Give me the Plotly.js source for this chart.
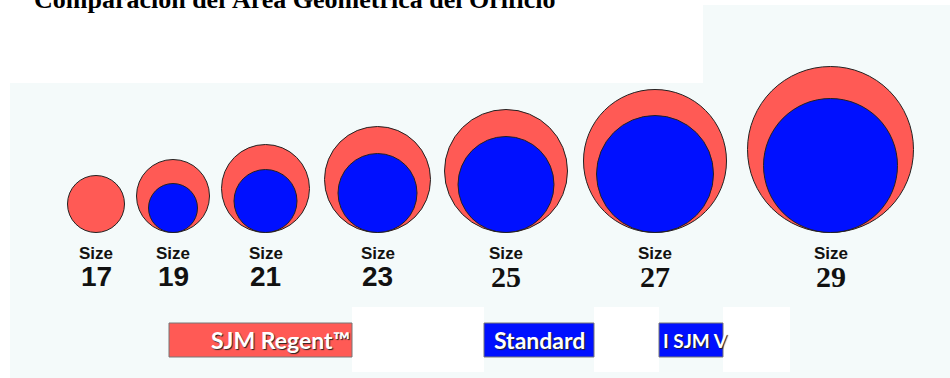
<!DOCTYPE html>
<html><head><meta charset="utf-8">
<script src="https://cdn.plot.ly/plotly-3.0.1.min.js"></script>
<style>html,body{margin:0;padding:0;background:#fff;overflow:hidden;} #chart{width:950px;height:378px;}</style>
</head><body><div id="chart"></div>
<script>
// ---- data ----
const sizes = ['17', '19', '21', '23', '25', '27', '29'];
const regentDiameter = [57, 73, 88, 106, 123, 143, 166];
const standardDiameter = [null, 49, 63, 79, 96, 117, 134];
const sizeWord = 'Size';
const titleText = 'Comparación del Área Geométrica del Orificio';
const legendLabels = ['SJM Regent™', 'Standard', 'I SJM V'];

// ---- layout helpers ----
const RED = '#ff5a55', BLUE = '#0010ff', LIGHT = '#f4fafa';
const baseline = 232.5;
const firstLeft = 67.5;
const gaps = [12, 12, 15, 14, 16, 21];
const centers = [];
let edge = firstLeft;
regentDiameter.forEach((d, i) => { if (i > 0) edge += gaps[i - 1]; centers.push(edge + d / 2); edge += d; });

const traces = [
  { type: 'scatter', mode: 'markers', name: 'SJM Regent™', x: centers,
    y: regentDiameter.map(d => baseline - d / 2), cliponaxis: false, hoverinfo: 'skip',
    marker: { size: regentDiameter, sizemode: 'diameter', opacity: 1, color: RED, line: { color: '#222', width: 1 } } },
  { type: 'scatter', mode: 'markers', name: 'Standard', x: centers,
    y: standardDiameter.map(d => d == null ? null : baseline - d / 2), cliponaxis: false, hoverinfo: 'skip',
    marker: { size: standardDiameter.map(d => d == null ? 0 : d), sizemode: 'diameter', opacity: 1, color: BLUE, line: { color: '#222', width: 1 } } }
];

const rect = (x0, y0, x1, y1, fill, line) => ({ type: 'rect', xref: 'x', yref: 'y', x0, y0, x1, y1, layer: 'below',
  fillcolor: fill, line: line || { width: 0 } });
const barLine = { color: '#777', width: 1 };
const shapes = [
  rect(10, 83, 950, 378, LIGHT),
  rect(703, 5, 950, 83, LIGHT),
  rect(352, 307, 484, 372, '#ffffff'),
  rect(594, 307, 659, 372, '#ffffff'),
  rect(723, 307, 790, 372, '#ffffff'),
  rect(169, 323, 352, 357, RED, barLine),
  rect(484, 323, 594, 357, BLUE, barLine),
  rect(659, 323, 723, 357, BLUE, barLine)
];

const annotations = [
  { text: '<b>' + titleText + '</b>', x: 32, y: 0, yshift: 1, xref: 'x', yref: 'y', xanchor: 'left', yanchor: 'middle', showarrow: false,
    font: { family: 'Liberation Serif, serif', size: 26, color: '#000' } }
];
sizes.forEach((s, i) => {
  annotations.push({ text: sizeWord, x: centers[i], y: 253, xref: 'x', yref: 'y', showarrow: false,
    font: { family: 'Liberation Sans, sans-serif', size: 17, color: '#111', weight: 700 } });
  const serif = i >= 4;
  annotations.push({ text: s, x: centers[i], y: 276, xref: 'x', yref: 'y', showarrow: false,
    font: serif ? { family: 'Liberation Serif, serif', size: 30, color: '#111', weight: 700 }
                : { family: 'Liberation Sans Narrow, Liberation Sans, sans-serif', size: 28, color: '#111', weight: 700 } });
});
const legX = [209, 492, 661];
const legSize = [23, 23, 19];
legendLabels.forEach((t, i) => {
  annotations.push({ text: t, x: legX[i], y: 340, xref: 'x', yref: 'y', xanchor: 'left', showarrow: false,
    font: { family: 'Lato, sans-serif', size: legSize[i], color: '#fff', weight: 700, shadow: '1px 1px 1px #222' } });
});

const layout = {
  width: 950, height: 378, margin: { l: 0, r: 0, t: 0, b: 0 },
  paper_bgcolor: '#fff', plot_bgcolor: '#fff', showlegend: false,
  xaxis: { range: [0, 950], visible: false, fixedrange: true },
  yaxis: { range: [378, 0], visible: false, fixedrange: true },
  shapes, annotations
};
Plotly.newPlot('chart', traces, layout, { staticPlot: true, displayModeBar: false });
</script></body></html>
